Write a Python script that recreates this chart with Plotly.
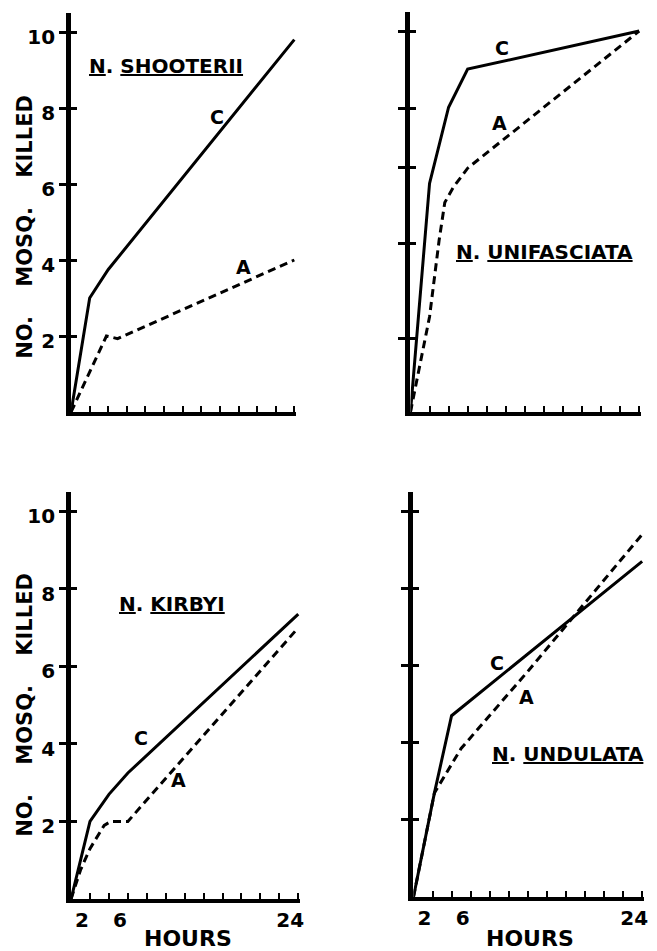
import plotly.graph_objects as go

# ---------------- data (hours vs. number of mosquitoes killed) ----------------
# N. SHOOTERII (top-left)
SHO_C_HOURS = [0, 2, 4, 24]
SHO_C_KILLED = [0, 3.0, 3.75, 9.8]
SHO_A_HOURS = [0, 3.8, 5, 24]
SHO_A_KILLED = [0, 2.0, 1.93, 4.0]

# N. UNIFASCIATA (top-right)
UNI_C_HOURS = [0, 2, 4, 6, 24]
UNI_C_KILLED = [0, 6.0, 8.0, 9.0, 10.0]
UNI_A_HOURS = [0, 2, 3, 3.6, 4.5, 6, 24]
UNI_A_KILLED = [0, 2.5, 4.5, 5.5, 5.9, 6.4, 10.0]

# N. KIRBYI (bottom-left)
KIR_C_HOURS = [0, 2, 4, 6, 24]
KIR_C_KILLED = [0, 2.0, 2.7, 3.25, 7.35]
KIR_A_HOURS = [0, 1, 2, 3.5, 4.2, 6, 24]
KIR_A_KILLED = [0, 0.75, 1.3, 1.9, 2.0, 2.0, 7.0]

# N. UNDULATA (bottom-right)
UND_C_HOURS = [0, 2.2, 4, 24]
UND_C_KILLED = [0, 2.7, 4.7, 8.7]
UND_A_HOURS = [0, 2.2, 5, 12, 24]
UND_A_KILLED = [0, 2.7, 3.85, 5.85, 9.4]

# ticks
HOUR_TICKS = [2, 4, 6, 8, 10, 12, 14, 16, 18, 20, 22, 24]
HOUR_LABELS = ["2", "", "6", "", "", "", "", "", "", "", "", "24"]
Y_TICKS = [2, 4, 6, 8, 10]
Y_LABELS = ["2", "4", "6", "8", "10"]
Y_TICKS_UNI = [1.94, 4.43, 6.43, 7.98, 10.0]   # hand-drawn, uneven ticks in that panel

SPECIES = ["N. SHOOTERII", "N. UNIFASCIATA", "N. KIRBYI", "N. UNDULATA"]

# ---------------- figure ----------------
W, H = 657, 951
FONT = "DejaVu Sans"


def fx(p):
    return p / W


def fy(p):
    return 1 - p / H


# pixel boxes of the four panels: (left, right, top, bottom)
boxes = [
    (71.5, 298, 13, 412),
    (413, 645, 12, 412),
    (71.5, 302, 492, 899),
    (416, 648, 492, 897),
]

series = [
    (SHO_C_HOURS, SHO_C_KILLED, SHO_A_HOURS, SHO_A_KILLED),
    (UNI_C_HOURS, UNI_C_KILLED, UNI_A_HOURS, UNI_A_KILLED),
    (KIR_C_HOURS, KIR_C_KILLED, KIR_A_HOURS, KIR_A_KILLED),
    (UND_C_HOURS, UND_C_KILLED, UND_A_HOURS, UND_A_KILLED),
]

fig = go.Figure()
layout = {}
for i, (box, (ch, cv, ah, av)) in enumerate(zip(boxes, series)):
    n = i + 1
    xs = "" if n == 1 else str(n)
    xa = "x" + xs
    ya = "y" + xs
    over = "y" + str(n + 4)
    fig.add_trace(go.Scatter(x=ch, y=cv, mode="lines", xaxis=xa, yaxis=ya,
                             line=dict(color="black", width=3), showlegend=False))
    fig.add_trace(go.Scatter(x=ah, y=av, mode="lines", xaxis=xa, yaxis=ya,
                             line=dict(color="black", width=3, dash="8px,5px"),
                             showlegend=False))
    fig.add_trace(go.Scatter(x=[], y=[], xaxis=xa, yaxis=over, showlegend=False))

    l, r, t, b = box
    yticks = Y_TICKS_UNI if n == 2 else Y_TICKS
    bottom_row = n in (3, 4)
    left_col = n in (1, 3)
    layout["xaxis" + xs] = dict(
        domain=[fx(l), fx(r)], range=[0, 24.2], anchor=ya,
        showline=True, linewidth=4, linecolor="black",
        ticks="inside", ticklen=6, tickwidth=2, tickcolor="black",
        tickvals=HOUR_TICKS, ticktext=HOUR_LABELS,
        showticklabels=bottom_row, ticklabelshift=-8, ticklabelstandoff=0,
        tickfont=dict(family=FONT, size=20, color="black", weight="bold"),
        showgrid=False, zeroline=False, fixedrange=True,
    )
    layout["yaxis" + xs] = dict(
        domain=[fy(b), fy(t)], range=[0, 10.5], anchor=xa,
        showline=True, linewidth=5, linecolor="black",
        ticks="outside", ticklen=7, tickwidth=3, tickcolor="black",
        tickvals=yticks, ticktext=Y_LABELS,
        showticklabels=left_col, ticklabelshift=5, ticklabelstandoff=0,
        tickfont=dict(family=FONT, size=20, color="black", weight="bold"),
        showgrid=False, zeroline=False, fixedrange=True,
    )
    layout["yaxis" + str(n + 4)] = dict(
        overlaying=ya, anchor=xa, side="left", range=[0, 10.5],
        showline=False, ticks="inside", ticklen=6, tickwidth=3, tickcolor="black",
        tickvals=yticks, showticklabels=False,
        showgrid=False, zeroline=False, fixedrange=True,
    )

annotations = []


def txt(text, x, y, size, xanchor="center", yanchor="middle", angle=0):
    annotations.append(dict(
        text=text, x=fx(x), y=fy(y), xref="paper", yref="paper",
        xanchor=xanchor, yanchor=yanchor, showarrow=False, textangle=angle,
        font=dict(family=FONT, size=size, color="black", weight="bold"),
    ))


# species names (underlined)
name_pos = [(88, 66), (457, 252), (118, 604), (493, 754)]
for name, (x, y) in zip(SPECIES, name_pos):
    genus, sp = name.split(". ")
    txt("<u>%s</u>. <u>%s</u>" % (genus, sp), x, y, 20, xanchor="left")

# curve labels
curve_labels = [
    ("C", 218, 117), ("A", 245, 267),
    ("C", 505, 48), ("A", 503, 123),
    ("C", 142, 738), ("A", 180, 780),
    ("C", 500, 663), ("A", 530, 697),
]
for t, x, y in curve_labels:
    txt(t, x, y, 19)

# axis titles
GAP = "\u00a0" * 4
ytitle = "NO." + GAP + "MOSQ." + GAP + "KILLED"
txt(ytitle, 25, 227, 21, angle=-90)
txt(ytitle, 25, 705, 21, angle=-90)
txt("HOURS", 189, 938, 22)
txt("HOURS", 533, 938, 22)

fig.update_layout(
    width=W, height=H,
    margin=dict(l=0, r=0, t=0, b=0),
    paper_bgcolor="white", plot_bgcolor="white",
    showlegend=False,
    annotations=annotations,
    **layout,
)

fig.write_html("out.html")
